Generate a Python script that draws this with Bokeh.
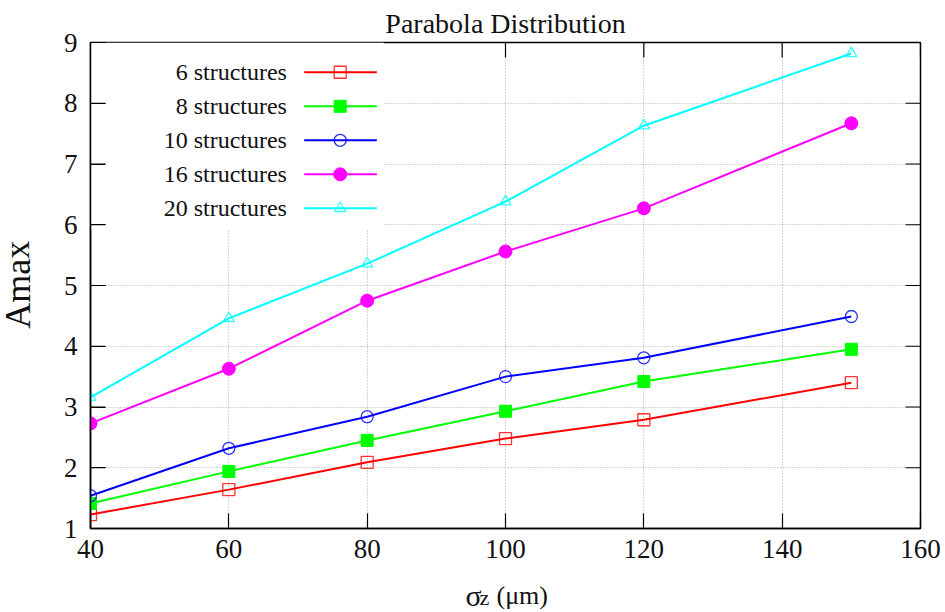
from bokeh.plotting import figure
from bokeh.models import Range1d, FixedTicker
from bokeh.layouts import column, row
from bokeh.core.properties import value
from bokeh.embed import file_html
from bokeh.resources import INLINE

# Amax versus bunch length sigma_z for several structure counts
sigma_z = [40, 60, 80, 100, 120, 150]
amax_6 = [1.23, 1.64, 2.09, 2.48, 2.79, 3.40]
amax_8 = [1.41, 1.94, 2.45, 2.93, 3.42, 3.95]
amax_10 = [1.54, 2.32, 2.84, 3.50, 3.81, 4.49]
amax_16 = [2.73, 3.63, 4.75, 5.56, 6.27, 7.67]
amax_20 = [3.16, 4.46, 5.36, 6.38, 7.63, 8.82]
series_names = ["6 structures", "8 structures", "10 structures",
                "16 structures", "20 structures"]
x_ticks = [40, 60, 80, 100, 120, 140, 160]
y_ticks = [1, 2, 3, 4, 5, 6, 7, 8, 9]
X_MIN, X_MAX = 40, 160
Y_MIN, Y_MAX = 1, 9

FONT = "Liberation Serif"
INK = "#111111"

styles = [
    dict(color="#ff0000", marker="square", filled=False, size=12),
    dict(color="#00ff00", marker="square", filled=True, size=12),
    dict(color="#0000ff", marker="circle", filled=False, size=12),
    dict(color="#ff00ff", marker="circle", filled=True, size=13),
    dict(color="#00ffff", marker="triangle", filled=False, size=11),
]
all_series = [amax_6, amax_8, amax_10, amax_16, amax_20]

# page layout: a side strip for the y title, the chart, a strip for the x title
PAGE_W = 945
SIDE_W = 60
CHART_H = 572
BOTTOM_H = 40
FRAME_W, FRAME_H = 832, 486
TICK_LEN = 15  # pixels, ticks point into the frame on all four sides


def bare_strip(w, h):
    s = figure(width=w, height=h, x_range=Range1d(0, w), y_range=Range1d(0, h),
               output_backend="svg", toolbar_location=None,
               x_axis_location=None, y_axis_location=None,
               min_border_left=0, min_border_right=0,
               min_border_top=0, min_border_bottom=0)
    s.grid.visible = False
    s.outline_line_color = None
    s.background_fill_color = "white"
    s.border_fill_color = "white"
    return s


p = figure(width=PAGE_W - SIDE_W, height=CHART_H,
           x_range=Range1d(X_MIN, X_MAX), y_range=Range1d(Y_MIN, Y_MAX),
           output_backend="svg", toolbar_location=None,
           min_border_left=28, min_border_right=25,
           min_border_top=42, min_border_bottom=44)
p.background_fill_color = "white"
p.border_fill_color = "white"
p.outline_line_color = "black"
p.outline_line_width = 1.5

p.title.text = "Parabola Distribution"
p.title.align = "center"
p.title.text_font = FONT
p.title.text_font_style = "normal"
p.title.text_font_size = "28px"
p.title.text_color = INK
p.title.standoff = 7

for ax, ticks in ((p.xaxis[0], x_ticks), (p.yaxis[0], y_ticks)):
    ax.ticker = FixedTicker(ticks=ticks)
    ax.axis_line_color = "black"
    ax.axis_line_width = 1.5
    ax.major_tick_in = TICK_LEN
    ax.major_tick_out = 0
    ax.major_tick_line_color = "black"
    ax.major_tick_line_width = 1.2
    ax.minor_tick_line_color = None
    ax.major_label_text_font = FONT
    ax.major_label_text_font_size = "27px"
    ax.major_label_text_color = INK
p.xaxis[0].major_label_standoff = 11
p.yaxis[0].major_label_standoff = 13

xg, yg = p.xgrid[0], p.ygrid[0]
xg.ticker = FixedTicker(ticks=x_ticks)
yg.ticker = FixedTicker(ticks=y_ticks)
for g in (xg, yg):
    g.grid_line_color = "#a8a8a8"
    g.grid_line_dash = "1 2"
    g.grid_line_width = 1

# mirrored tick marks along the top and right edges
tick_dy = TICK_LEN * (Y_MAX - Y_MIN) / FRAME_H
tick_dx = TICK_LEN * (X_MAX - X_MIN) / FRAME_W
p.segment(x0=x_ticks, x1=x_ticks, y0=[Y_MAX] * len(x_ticks),
          y1=[Y_MAX - tick_dy] * len(x_ticks), line_color="black",
          line_width=1.2)
p.segment(x0=[X_MAX] * len(y_ticks), x1=[X_MAX - tick_dx] * len(y_ticks),
          y0=y_ticks, y1=y_ticks, line_color="black", line_width=1.2)

# white key box in the upper left corner, hiding the grid behind it
KEY_X0, KEY_X1 = 40, 82.4
KEY_Y0, KEY_Y1 = 5.93, 9
p.quad(left=[KEY_X0], right=[KEY_X1], bottom=[KEY_Y0], top=[KEY_Y1],
       fill_color="white", line_color=None)
# left-edge ticks stay visible above the key box
p.segment(x0=[X_MIN] * len(y_ticks), x1=[X_MIN + tick_dx] * len(y_ticks),
          y0=y_ticks, y1=y_ticks, line_color="black", line_width=1.2)


def draw_marks(xs, ys, st):
    kw = dict(marker=st["marker"], size=st["size"], line_color=st["color"])
    if st["filled"]:
        kw.update(fill_color=st["color"], line_width=1)
    else:
        kw.update(fill_color=None, line_width=1.3, line_alpha=0.8)
    p.scatter(xs, ys, **kw)


for ys, st in zip(all_series, styles):
    p.line(sigma_z, ys, line_color=st["color"], line_width=2)
    draw_marks(sigma_z, ys, st)

# key entries: label on the left, line sample with marker on the right
KEY_TEXT_X = 68.4
KEY_LINE_X0, KEY_LINE_X1 = 70.9, 81.4
KEY_MARK_X = 76.1
KEY_ROW0, KEY_STEP = 8.51, 0.56
key_rows = [KEY_ROW0 - i * KEY_STEP for i in range(len(series_names))]
p.text(x=[KEY_TEXT_X] * len(series_names), y=key_rows, text=series_names,
       text_align="right", text_baseline="middle", text_font=value(FONT),
       text_font_size="24px", text_color=INK)
for ry, st in zip(key_rows, styles):
    p.line([KEY_LINE_X0, KEY_LINE_X1], [ry, ry], line_color=st["color"],
           line_width=2)
    draw_marks([KEY_MARK_X], [ry], st)

# y axis title, reading upwards, centred on the chart frame
side = bare_strip(SIDE_W, CHART_H)
side.text(x=[17], y=[CHART_H - 285], text=["Amax"], angle=[90],
          angle_units="deg", text_align="center", text_baseline="alphabetic",
          text_font=value(FONT), text_font_size="36px", text_color=INK)

# x axis title: sigma with subscript z, then the unit
bottom = bare_strip(PAGE_W, BOTTOM_H)
bottom.text(x=[465], y=[17], text=["σ"], text_align="left",
            text_baseline="alphabetic", text_font=value(FONT),
            text_font_size="30px", text_color=INK)
bottom.text(x=[479], y=[15.5], text=["z"], text_align="left",
            text_baseline="alphabetic", text_font=value(FONT),
            text_font_size="22px", text_color=INK)
bottom.text(x=[496], y=[17], text=["(μm)"], text_align="left",
            text_baseline="alphabetic", text_font=value(FONT),
            text_font_size="26px", text_color=INK)

page = column(row(side, p, spacing=0), bottom, spacing=0)
open("out.html", "w").write(file_html(page, INLINE))
